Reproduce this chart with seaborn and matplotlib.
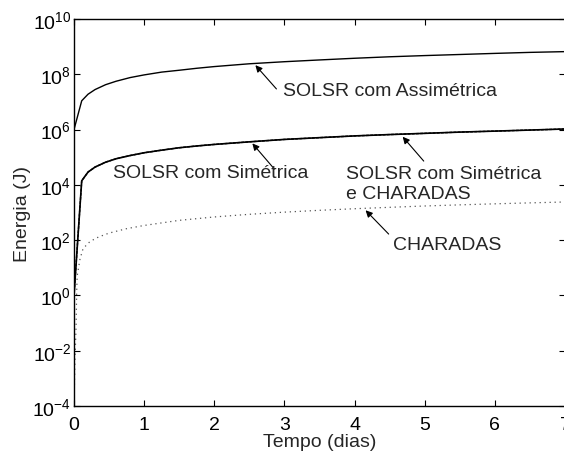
import numpy as np
import pandas as pd
import matplotlib
matplotlib.use("Agg")
import matplotlib.pyplot as plt
import seaborn as sns
from matplotlib.ticker import LogLocator, LogFormatterSciNotation, NullLocator

# ---- data ----
t_main = [0, 0.11, 0.2, 0.3, 0.45, 0.6, 0.8, 1, 1.25, 1.5, 1.75, 2, 2.5, 3, 3.5, 4, 4.5, 5, 5.5, 6, 6.5, 7]
e_assim = [1e6, 1.1e7, 1.9e7, 2.8e7, 4.2e7, 5.6e7, 7.6e7, 9.5e7, 1.2e8, 1.4e8, 1.65e8, 1.9e8, 2.4e8,
           2.85e8, 3.3e8, 3.8e8, 4.3e8, 4.75e8, 5.2e8, 5.7e8, 6.2e8, 6.6e8]
e_sim = [1, 1.4e4, 2.9e4, 4.4e4, 6.6e4, 8.8e4, 1.15e5, 1.45e5, 1.8e5, 2.2e5, 2.55e5, 2.9e5, 3.6e5,
         4.4e5, 5.1e5, 5.9e5, 6.6e5, 7.3e5, 8.1e5, 8.8e5, 9.6e5, 1.05e6]
e_sim_char = [1, 1.4e4, 2.9e4, 4.4e4, 6.6e4, 8.8e4, 1.15e5, 1.45e5, 1.8e5, 2.2e5, 2.55e5, 2.9e5, 3.6e5,
              4.4e5, 5.1e5, 5.9e5, 6.6e5, 7.3e5, 8.1e5, 8.8e5, 9.6e5, 1.05e6]
t_char = [0, 0.014, 0.03, 0.038, 0.045, 0.086, 0.13, 0.23, 0.35, 0.5, 0.75, 1, 1.5, 2, 2.5,
          3, 3.5, 4, 4.5, 5, 5.5, 6, 6.5, 7]
e_char = [1.1e-4, 5e-3, 8e-2, 1.3, 5, 21, 50, 90, 130, 180, 260, 340, 520, 690, 860, 1030,
          1200, 1370, 1540, 1720, 1890, 2060, 2230, 2400]

x_ticks = [0, 1, 2, 3, 4, 5, 6, 7]
y_ticks = [1e-4, 1e-2, 1e0, 1e2, 1e4, 1e6, 1e8, 1e10]

labels = {
    "assim": "SOLSR com Assimétrica",
    "sim": "SOLSR com Simétrica",
    "simchar": "SOLSR com Simétrica\ne CHARADAS",
    "char": "CHARADAS",
}

FS = 14

# ---- style ----
sns.set_theme(style="ticks")
plt.rcParams["font.family"] = ["Liberation Sans", "DejaVu Sans"]
plt.rcParams["mathtext.fontset"] = "custom"
plt.rcParams["mathtext.rm"] = "Liberation Sans"
plt.rcParams["mathtext.it"] = "Liberation Sans:italic"
plt.rcParams["mathtext.default"] = "regular"

fig = plt.figure(figsize=(5.64, 4.52), dpi=100)
ax = fig.add_axes([74 / 564, 45 / 452, 491 / 564, 387 / 452])

df_main = pd.DataFrame({"t": t_main, "assim": e_assim, "sim": e_sim, "simchar": e_sim_char})
df_char = pd.DataFrame({"t": t_char, "char": e_char})

sns.lineplot(data=df_main, x="t", y="assim", ax=ax, color="black", lw=1.0, estimator=None)
sns.lineplot(data=df_main, x="t", y="sim", ax=ax, color="black", lw=1.2, estimator=None)
sns.lineplot(data=df_main, x="t", y="simchar", ax=ax, color="black", lw=1.0,
             linestyle=(0, (2, 1)), estimator=None)
sns.lineplot(data=df_char, x="t", y="char", ax=ax, color="#555555", lw=0.9,
             linestyle=(0, (1, 3)), estimator=None)

ax.set_yscale("log")
ax.set_xlim(0, 7)
ax.set_ylim(1e-4, 1e10)
ax.set_xticks(x_ticks)
ax.set_xticklabels([str(v) for v in x_ticks])
ax.yaxis.set_major_locator(LogLocator(base=100))
ax.set_yticks(y_ticks)
ax.yaxis.set_major_formatter(LogFormatterSciNotation())
ax.yaxis.set_minor_locator(NullLocator())
ax.xaxis.set_minor_locator(NullLocator())

ax.tick_params(direction="in", top=True, right=True, length=4, width=0.8,
               labelsize=FS, colors="black", pad=2)
ax.tick_params(axis="x", pad=7)
for s in ax.spines.values():
    s.set_linewidth(1.0)
    s.set_color("black")

ax.set_xlabel("Tempo (dias)", fontsize=FS, labelpad=0)
ax.set_ylabel("Energia (J)", fontsize=FS, labelpad=1)

arrow = dict(arrowstyle="-|>", color="black", lw=0.8, mutation_scale=10,
             shrinkA=0, shrinkB=0)

ax.annotate("", xy=(2.586, 10 ** 8.33), xytext=(2.886, 10 ** 7.47), arrowprops=arrow)
ax.text(2.986, 10 ** 7.43, labels["assim"], fontsize=FS, ha="left", va="center")

ax.annotate("", xy=(2.543, 10 ** 5.5), xytext=(2.857, 10 ** 4.57), arrowprops=arrow)
ax.text(3.343, 10 ** 4.43, labels["sim"], fontsize=FS, ha="right", va="center")

ax.annotate("", xy=(4.686, 10 ** 5.74), xytext=(4.986, 10 ** 4.86), arrowprops=arrow)
ax.text(3.871, 10 ** 4.05, labels["simchar"], fontsize=FS, ha="left", va="center",
        multialignment="left", linespacing=1.2)

ax.annotate("", xy=(4.157, 10 ** 3.08), xytext=(4.486, 10 ** 2.22), arrowprops=arrow)
ax.text(4.543, 10 ** 1.86, labels["char"], fontsize=FS, ha="left", va="center")

fig.savefig("out.png", dpi=100)
